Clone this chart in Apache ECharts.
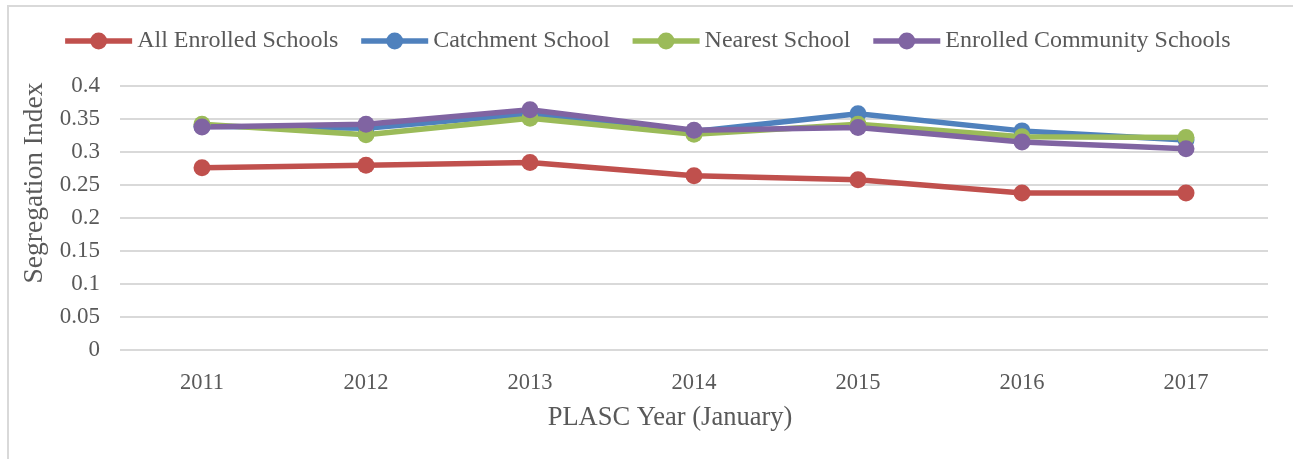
<!DOCTYPE html>
<html>
<head>
<meta charset="utf-8">
<script src="https://cdn.jsdelivr.net/npm/echarts@6/dist/echarts.min.js"></script>
<style>
  body { margin: 0; background: #fff; }
  #frame { position: absolute; left: 7px; top: 5px; width: 1300px; height: 470px; border: 2px solid #d9d9d9; box-sizing: border-box; }
  #chart { position: absolute; left: 0; top: 0; width: 1293px; height: 459px; }
</style>
</head>
<body>
<div id="frame"></div>
<div id="chart"></div>
<script>
// PLASC years
var years = ['2011', '2012', '2013', '2014', '2015', '2016', '2017']
var allEnrolled = [0.276, 0.280, 0.284, 0.264, 0.258, 0.238, 0.238]
var catchment = [0.339, 0.336, 0.358, 0.331, 0.358, 0.332, 0.318]
var nearest = [0.342, 0.326, 0.351, 0.327, 0.342, 0.323, 0.322]
var community = [0.338, 0.342, 0.364, 0.333, 0.337, 0.315, 0.305]

var font = '"Liberation Serif", "Times New Roman", serif'

function line(name, color, data) {
    return {
        name: name,
        type: 'line',
        data: data,
        symbol: 'circle',
        symbolSize: 17,
        lineStyle: { width: 5.5, color: color },
        itemStyle: { color: color },
        z: 2
    }
}

var chart = echarts.init(document.getElementById('chart'))
var option = {
    animation: false,
    textStyle: { fontFamily: font },
    legend: {
        top: 24,
        left: 'center',
        itemWidth: 67,
        itemHeight: 21,
        itemGap: 20,
        lineStyle: { width: 5.5 },
        textStyle: { fontFamily: font, fontSize: 24, color: '#595959' }
    },
    grid: { left: 120, right: 25, top: 86, bottom: 109, containLabel: false },
    xAxis: {
        type: 'category',
        data: years,
        boundaryGap: true,
        name: 'PLASC Year (January)',
        nameLocation: 'middle',
        nameGap: 55,
        nameTextStyle: { fontFamily: font, fontSize: 26.5, color: '#595959', padding: [0, 48, 0, 0] },
        axisLine: { show: false },
        axisTick: { show: false },
        axisLabel: { fontFamily: font, fontSize: 22.5, color: '#595959', margin: 22 }
    },
    yAxis: {
        type: 'value',
        min: 0,
        max: 0.4,
        interval: 0.05,
        name: 'Segregation Index',
        nameLocation: 'middle',
        nameGap: 68,
        nameTextStyle: { fontFamily: font, fontSize: 27.5, color: '#595959', padding: [0, 0, 0, 70] },
        axisLabel: { fontFamily: font, fontSize: 23, color: '#595959', margin: 20 },
        splitLine: { lineStyle: { color: '#d9d9d9', width: 2 } }
    },
    series: [
        line('All Enrolled Schools', '#c0504d', allEnrolled),
        line('Catchment School', '#4f81bd', catchment),
        line('Nearest School', '#9bbb59', nearest),
        line('Enrolled Community Schools', '#8064a2', community)
    ]
}
option && chart.setOption(option)
</script>
</body>
</html>
